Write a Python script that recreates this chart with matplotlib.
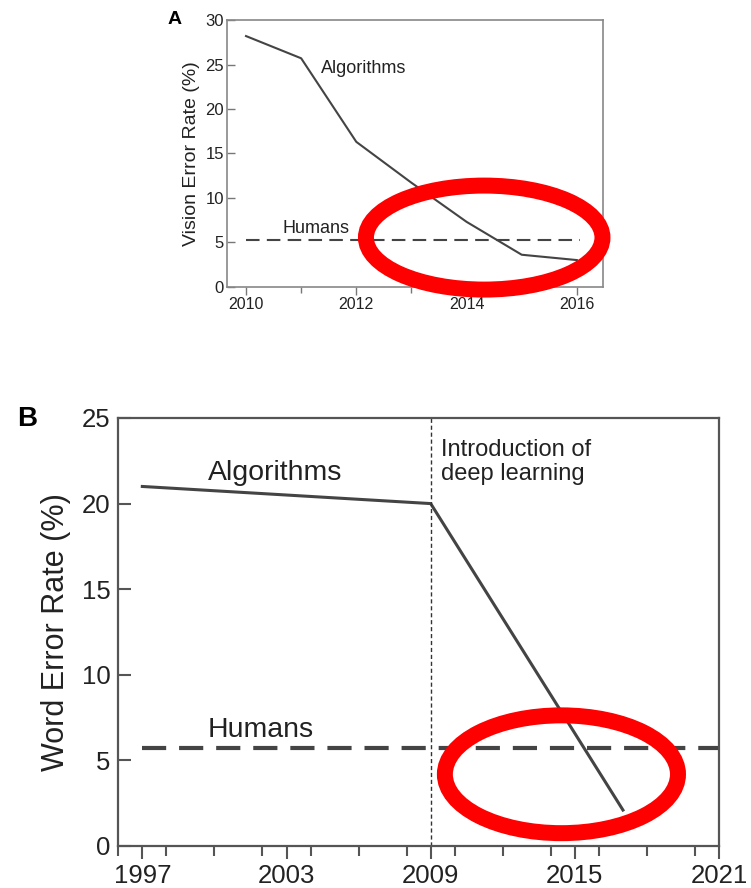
import matplotlib
matplotlib.use("Agg")
import matplotlib.pyplot as plt
from matplotlib.patches import Ellipse
from matplotlib.ticker import MultipleLocator

plt.rcParams["font.family"] = ["Liberation Sans", "DejaVu Sans"]

# panel A - vision (ImageNet) error rate
vision_years = [2010, 2011, 2012, 2013, 2014, 2015, 2016]
vision_error = [28.2, 25.7, 16.3, 11.7, 7.3, 3.6, 3.0]
vision_human = 5.3

# panel B - speech word error rate
speech_years = [1997, 2009, 2017]
speech_error = [21.0, 20.0, 2.1]
speech_human = 5.7
deep_learning_year = 2009

line_col = "#444444"

fig = plt.figure(figsize=(7.51, 8.88), dpi=100)

# ---------------- panel A ----------------
ax_a = fig.add_axes([0.3019, 0.6771, 0.5007, 0.3003])
ax_a.plot(vision_years, vision_error, color=line_col, lw=1.5)
ax_a.plot([vision_years[0], 2016.05], [vision_human, vision_human],
          color=line_col, lw=1.5, dashes=(6.5, 3.5))
ax_a.set_xlim(2009.65, 2016.47)
ax_a.set_ylim(0, 30)
ax_a.xaxis.set_major_locator(MultipleLocator(2))
ax_a.xaxis.set_minor_locator(MultipleLocator(1))
ax_a.yaxis.set_major_locator(MultipleLocator(5))
ax_a.tick_params(axis="x", which="major", direction="out", length=5.5, width=1,
                 color="#777777", labelsize=11.5, pad=2, labelcolor="#222222")
ax_a.tick_params(axis="x", which="minor", direction="out", length=4, width=1,
                 color="#777777")
ax_a.tick_params(axis="y", direction="in", length=6, width=1, color="#777777",
                 labelsize=12, pad=2, labelcolor="#222222")
for sp in ax_a.spines.values():
    sp.set_color("#888888")
    sp.set_linewidth(1.2)
ax_a.set_ylabel("Vision Error Rate (%)", fontsize=14, color="#222222", labelpad=4)
ax_a.text(2011.36, 24.1, "Algorithms", fontsize=13, color="#222222")
ax_a.text(2010.67, 6.1, "Humans", fontsize=13, color="#222222")
ax_a.add_patch(Ellipse((2014.32, 5.53), 4.29, 11.7, fill=False, ec="#ff0000",
                       lw=11.5, clip_on=False, zorder=5))
fig.text(168 / 751, 1 - 24 / 888, "A", fontsize=14, fontweight="bold")

# ---------------- panel B ----------------
ax_b = fig.add_axes([0.1575, 0.0473, 0.8000, 0.4820])
ax_b.plot(speech_years, speech_error, color=line_col, lw=2.2)
ax_b.plot([speech_years[0], 2021], [speech_human, speech_human],
          color=line_col, lw=3, dashes=(5.8, 3.1))
ax_b.plot([deep_learning_year, deep_learning_year], [0, 25], color="#333333",
          lw=1, dashes=(3, 2))
ax_b.set_xlim(1996, 2021)
ax_b.set_ylim(0, 25)
ax_b.set_xticks([1997, 2003, 2009, 2015, 2021])
ax_b.xaxis.set_minor_locator(MultipleLocator(2))
ax_b.yaxis.set_major_locator(MultipleLocator(5))
ax_b.tick_params(axis="x", which="major", direction="out", length=9.5, width=1.5,
                 color="#555555", labelsize=18.5, pad=3.5, labelcolor="#222222")
ax_b.tick_params(axis="x", which="minor", direction="out", length=7, width=1.5,
                 color="#555555")
ax_b.tick_params(axis="y", direction="in", length=9, width=1.5, color="#555555",
                 labelsize=18.5, pad=5.5, labelcolor="#222222")
for sp in ax_b.spines.values():
    sp.set_color("#555555")
    sp.set_linewidth(1.6)
ax_b.set_ylabel("Word Error Rate (%)", fontsize=22, color="#222222", labelpad=8)
ax_b.text(1999.73, 21.4, "Algorithms", fontsize=20.5, color="#222222")
ax_b.text(1999.73, 6.38, "Humans", fontsize=20.5, color="#222222")
ax_b.text(2009.42, 23.8, "Introduction of\ndeep learning", fontsize=17,
          color="#222222", va="top", linespacing=1.15)
ax_b.add_patch(Ellipse((2014.44, 4.19), 9.7, 6.88, fill=False, ec="#ff0000",
                       lw=11.5, clip_on=False, zorder=5))
fig.text(17 / 751, 1 - 426 / 888, "B", fontsize=20, fontweight="bold")

fig.savefig("out.png", dpi=100)
